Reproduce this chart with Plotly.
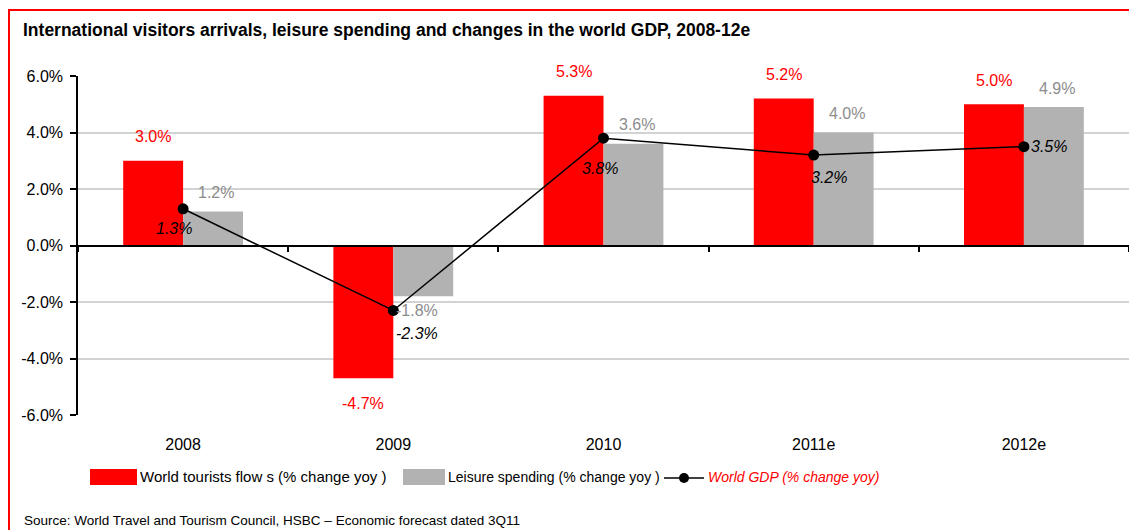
import plotly.graph_objects as go

# Year-on-year changes, %
categories = ["2008", "2009", "2010", "2011e", "2012e"]
tourist_flows = [3.0, -4.7, 5.3, 5.2, 5.0]
leisure_spending = [1.2, -1.8, 3.6, 4.0, 4.9]
world_gdp = [1.3, -2.3, 3.8, 3.2, 3.5]

y_tick_values = [-6, -4, -2, 0, 2, 4, 6]
y_tick_labels = ["-6.0%", "-4.0%", "-2.0%", "0.0%", "2.0%", "4.0%", "6.0%"]

TITLE = "International visitors arrivals, leisure spending and changes in the world GDP, 2008-12e"
SOURCE = "Source: World Travel and Tourism Council, HSBC \u2013 Economic forecast dated 3Q11"
LEGEND_FLOWS = "World tourists flow s (% change yoy )"
LEGEND_LEISURE = "Leisure spending (% change yoy )"
LEGEND_GDP = "World GDP (% change yoy)"

RED = "#ff0000"
GREY = "#b2b2b2"
GREY_TEXT = "#8c8c8c"
FONT = "Liberation Sans, Arial, sans-serif"

W, H = 1129, 530
M_L, M_R, M_T, M_B = 78, 0, 76, 115
PW, PH = W - M_L - M_R, H - M_T - M_B


def px_x(px):
    return (px - M_L) / PW


def px_y(py):
    return (H - M_B - py) / PH


# per-point pixel offsets of the GDP value labels relative to their markers
gdp_label_shift = [(-9, -20), (24, -23), (-4, -30), (15, -22), (25, 0)]

fig = go.Figure()

fig.add_trace(go.Bar(x=categories, y=tourist_flows, marker_color=RED,
                     marker_line_width=0, name=LEGEND_FLOWS))
fig.add_trace(go.Bar(x=categories, y=leisure_spending, marker_color=GREY,
                     marker_line_width=0, name=LEGEND_LEISURE))
fig.add_trace(go.Scatter(x=categories, y=world_gdp, mode="lines+markers",
                         line=dict(color="black", width=1.5),
                         marker=dict(color="black", size=11),
                         name=LEGEND_GDP))
# carrier trace for the zero-line axis with category boundary ticks
fig.add_trace(go.Scatter(x=categories, y=world_gdp, xaxis="x2", mode="markers",
                         marker=dict(opacity=0), hoverinfo="skip", showlegend=False))

LABEL_SIZE = 16
annotations = []
# category positions are given by index so numeric-looking years stay categories
for i, v in enumerate(tourist_flows):
    annotations.append(dict(x=i, y=v, xref="x", yref="y", text=f"{v:.1f}%",
                            showarrow=False, xshift=-30, yshift=24 if v >= 0 else -25,
                            font=dict(family=FONT, size=LABEL_SIZE, color=RED)))
for i, v in enumerate(leisure_spending):
    annotations.append(dict(x=i, y=v, xref="x", yref="y", text=f"{v:.1f}%",
                            showarrow=False, xshift=33 if v >= 0 else 24,
                            yshift=19 if v >= 0 else -14,
                            font=dict(family=FONT, size=LABEL_SIZE, color=GREY_TEXT)))
for i, (v, (dx, dy)) in enumerate(zip(world_gdp, gdp_label_shift)):
    annotations.append(dict(x=i, y=v, xref="x", yref="y", text=f"<i>{v:.1f}%</i>",
                            showarrow=False, xshift=dx, yshift=dy,
                            font=dict(family=FONT, size=LABEL_SIZE, color="black")))

# title and source
annotations.append(dict(x=px_x(21), y=px_y(30), xref="paper", yref="paper",
                        text=f"<b>{TITLE}</b>", showarrow=False,
                        xanchor="left", yanchor="middle",
                        font=dict(family=FONT, size=17.5, color="black")))
annotations.append(dict(x=px_x(22), y=px_y(511), xref="paper", yref="paper",
                        text=SOURCE, showarrow=False, xanchor="left", yanchor="top",
                        font=dict(family=FONT, size=13.5, color="black")))

# legend
LEG_Y = 477
annotations += [
    dict(x=px_x(138), y=px_y(LEG_Y), xref="paper", yref="paper", text=LEGEND_FLOWS,
         showarrow=False, xanchor="left", yanchor="middle",
         font=dict(family=FONT, size=15, color="black")),
    dict(x=px_x(446), y=px_y(LEG_Y), xref="paper", yref="paper", text=LEGEND_LEISURE,
         showarrow=False, xanchor="left", yanchor="middle",
         font=dict(family=FONT, size=14, color="black")),
    dict(x=px_x(706), y=px_y(LEG_Y), xref="paper", yref="paper", text=f"<i>{LEGEND_GDP}</i>",
         showarrow=False, xanchor="left", yanchor="middle",
         font=dict(family=FONT, size=14, color=RED)),
]

shapes = [
    dict(type="rect", xref="paper", yref="paper", x0=px_x(90), x1=px_x(137),
         y0=px_y(LEG_Y - 8), y1=px_y(LEG_Y + 8), fillcolor=RED, line_width=0),
    dict(type="rect", xref="paper", yref="paper", x0=px_x(403), x1=px_x(445),
         y0=px_y(LEG_Y - 8), y1=px_y(LEG_Y + 8), fillcolor=GREY, line_width=0),
    dict(type="line", xref="paper", yref="paper", x0=px_x(664), x1=px_x(704),
         y0=px_y(LEG_Y + 1), y1=px_y(LEG_Y + 1), line=dict(color="black", width=1.5)),
    dict(type="circle", xref="paper", yref="paper", x0=px_x(679), x1=px_x(689),
         y0=px_y(LEG_Y - 4), y1=px_y(LEG_Y + 6), fillcolor="black", line_width=0),
    # red frame around the exhibit
    dict(type="rect", xref="paper", yref="paper", x0=px_x(9), x1=px_x(1300),
         y0=px_y(700), y1=px_y(10), line=dict(color=RED, width=2)),
]

fig.update_layout(
    width=W, height=H,
    margin=dict(l=M_L, r=M_R, t=M_T, b=M_B, pad=0),
    paper_bgcolor="white", plot_bgcolor="white",
    barmode="group", bargap=0.43, bargroupgap=0,
    showlegend=False,
    font=dict(family=FONT, size=16, color="black"),
    annotations=annotations, shapes=shapes,
    xaxis=dict(type="category", categoryorder="array", categoryarray=categories,
               range=[-0.5, len(categories) - 0.5],
               showline=False, ticks="", showgrid=False, zeroline=False,
               tickfont=dict(family=FONT, size=16, color="black"),
               ticklabelstandoff=18),
    xaxis2=dict(type="category", categoryorder="array", categoryarray=categories,
                range=[-0.5, len(categories) - 0.5], overlaying="x",
                anchor="free", position=0.5,
                showline=True, linecolor="black", linewidth=1.5,
                ticks="outside", tickson="boundaries", ticklen=6, tickwidth=1.5,
                tickcolor="black", showticklabels=False, showgrid=False, zeroline=False),
    yaxis=dict(range=[-6, 6], tickvals=y_tick_values, ticktext=y_tick_labels,
               showline=True, linecolor="black", linewidth=1.5,
               ticks="outside", ticklen=6, tickwidth=1.5, tickcolor="black",
               showgrid=True, gridcolor="#d3d3d3", gridwidth=1.5, zeroline=False,
               tickfont=dict(family=FONT, size=16, color="black"),
               ticklabelstandoff=4),
)

fig.write_html("out.html")
